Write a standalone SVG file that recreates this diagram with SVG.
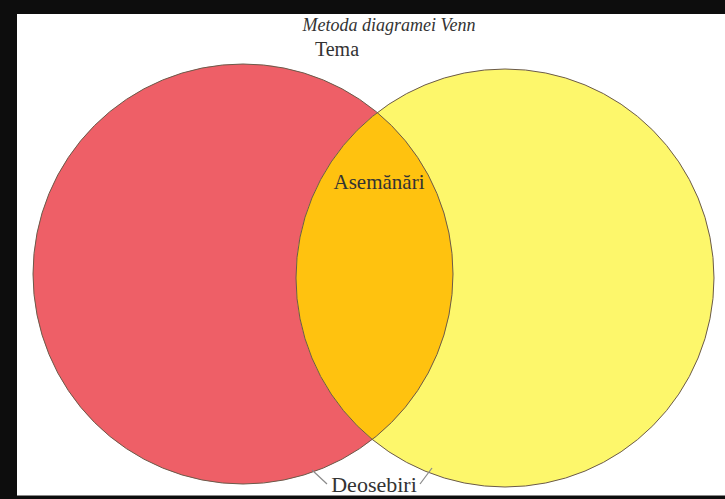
<svg xmlns="http://www.w3.org/2000/svg" width="725" height="499" viewBox="0 0 725 499">
<style>
.c{stroke:#6b5a4a;stroke-width:1}
.t{font-family:"Liberation Serif",serif;fill:#333}
.lead{stroke:#8a8a8a;stroke-width:1.2;fill:none}
</style>
<defs>
<clipPath id="clipL"><circle cx="243" cy="274" r="210"/></clipPath>
</defs>
<rect x="0" y="0" width="725" height="499" fill="#0d0d0d"/>
<rect x="17" y="14" width="708" height="481" fill="#ffffff"/>
<line x1="17" y1="495.5" x2="725" y2="495.5" stroke="#888" stroke-width="1"/>
<g id="tema">
<circle cx="243" cy="274" r="210" fill="#ee5f67"/>
</g>
<g id="deosebiri-right">
<circle cx="505" cy="278" r="209" fill="#fdf76b"/>
</g>
<g id="asemanari">
<circle cx="505" cy="278" r="209" fill="#ffc20f" clip-path="url(#clipL)"/>
<circle cx="243" cy="274" r="210" fill="none" class="c"/>
<circle cx="505" cy="278" r="209" fill="none" class="c" stroke="#8a8a50"/>
<text class="t" x="379" y="189" font-size="21" text-anchor="middle" fill="#3a2a10">Asemănări</text>
</g>
<g id="title">
<text class="t" x="389" y="31" font-size="18" font-style="italic" text-anchor="middle">Metoda diagramei Venn</text>
<text class="t" x="337" y="56" font-size="20" text-anchor="middle">Tema</text>
</g>
<g id="connectors">
<line class="lead" x1="312" y1="470" x2="327" y2="484"/>
<line class="lead" x1="420" y1="484" x2="432" y2="468"/>
</g>
<g id="deosebiri">
<text class="t" x="374" y="492" font-size="22" text-anchor="middle">Deosebiri</text>
</g>
</svg>
